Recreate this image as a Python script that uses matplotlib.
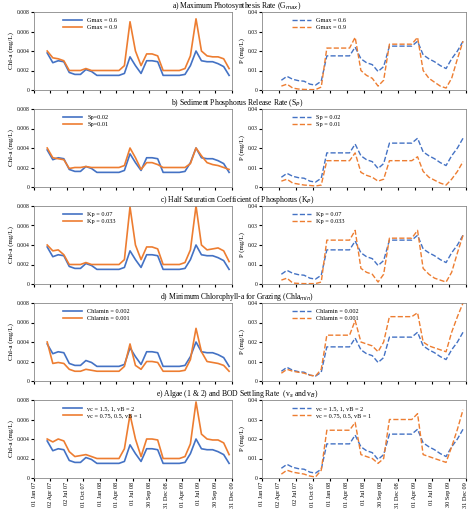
import numpy as np
import pandas as pd
import matplotlib
matplotlib.use("Agg")
import matplotlib.pyplot as plt

plt.rcParams['font.family'] = ['Liberation Serif', 'DejaVu Serif']

BLUE = "#4472C4"
ORANGE = "#ED7D31"

# monthly dates for Chl-a (Mar 07 .. Dec 09) and P (Apr 07 .. Dec 09)
chl_dates = pd.date_range("2007-03-01", "2009-12-01", freq="MS") + pd.Timedelta(days=14)
p_dates = pd.date_range("2007-04-01", "2009-12-01", freq="MS") + pd.Timedelta(days=14)

chl_base = [.0038, .0028, .0030, .0029, .0018, .0016, .0016, .0021, .0019, .0015, .0015, .0015,
            .0015, .0015, .0017, .0034, .0025, .0017, .0030, .0030, .0029, .0015, .0015, .0015,
            .0015, .0016, .0025, .0040, .0030, .0029, .0029, .0027, .0024, .0015]
chl_a = [.0040, .0033, .0032, .0030, .0020, .0020, .0020, .0022, .0020, .0020, .0020, .0020,
         .0020, .0020, .0025, .0070, .0040, .0025, .0037, .0037, .0035, .0020, .0020, .0020,
         .0020, .0022, .0035, .0073, .0040, .0035, .0034, .0034, .0032, .0022]
chl_b = [.0040, .0030, .0029, .0028, .0019, .0020, .0020, .0021, .0020, .0020, .0020, .0020,
         .0020, .0020, .0022, .0040, .0030, .0018, .0025, .0025, .0023, .0020, .0020, .0020,
         .0020, .0020, .0024, .0040, .0032, .0025, .0023, .0022, .0020, .0018]
chl_c = [.0040, .0034, .0035, .0030, .0020, .0020, .0020, .0022, .0020, .0020, .0020, .0020,
         .0020, .0020, .0025, .0079, .0040, .0025, .0038, .0038, .0036, .0020, .0020, .0020,
         .0020, .0022, .0035, .0080, .0040, .0035, .0036, .0037, .0034, .0023]
chl_d = [.0040, .0018, .0019, .0018, .0012, .0010, .0010, .0012, .0011, .0010, .0010, .0010,
         .0010, .0010, .0015, .0038, .0016, .0012, .0020, .0020, .0019, .0010, .0010, .0010,
         .0010, .0011, .0022, .0054, .0030, .0020, .0019, .0018, .0016, .0010]
chl_e = [.0040, .0037, .0040, .0038, .0027, .0022, .0023, .0024, .0022, .0020, .0020, .0020,
         .0020, .0020, .0030, .0065, .0040, .0022, .0040, .0040, .0039, .0020, .0020, .0020,
         .0020, .0022, .0035, .0078, .0045, .0040, .0039, .0039, .0036, .0024]

p_base = [.005, .007, .0055, .0048, .0045, .003, .0025, .0045, .0175, .0175, .0175, .0175,
          .0175, .022, .016, .014, .013, .0095, .012, .0225, .0225, .0225, .0225, .0225,
          .025, .018, .016, .0145, .0125, .011, .016, .020, .025]
p_a = [.002, .003, .001, .0005, .0003, .0002, .0002, .0015, .0215, .0215, .0215, .0215,
       .0215, .027, .010, .0075, .006, .002, .005, .0235, .0235, .0235, .0235, .0235,
       .027, .010, .006, .004, .002, .001, .006, .016, .025]
p_b = [.003, .004, .002, .0015, .001, .0008, .0005, .001, .0135, .0135, .0135, .0135,
       .0135, .0175, .0075, .006, .005, .003, .004, .0135, .0135, .0135, .0135, .0135,
       .0155, .008, .005, .0035, .002, .001, .004, .008, .013]
p_c = [.002, .003, .0005, .0003, .0002, .0002, .0002, .001, .0225, .0225, .0225, .0225,
       .0225, .0275, .008, .006, .005, .001, .005, .0235, .0235, .0235, .0235, .0235,
       .0275, .008, .005, .003, .002, .001, .006, .016, .025]
p_d = [.004, .006, .005, .0045, .004, .003, .0025, .006, .0235, .0235, .0235, .0235,
       .0235, .031, .020, .019, .018, .015, .020, .033, .033, .033, .033, .033,
       .035, .020, .018, .017, .016, .015, .025, .033, .040]
p_e = [.002, .004, .003, .0025, .002, .001, .0005, .004, .0245, .0245, .0245, .0245,
       .0245, .0285, .012, .011, .010, .0075, .010, .030, .030, .030, .030, .030,
       .033, .012, .011, .010, .009, .008, .016, .025, .035]

titles = ["a) Maximum Photosynthesis Rate (G$_{max}$)",
          "b) Sediment Phosphorus Release Rate (S$_P$)",
          "c) Half Saturation Coefficient of Phosphorus (K$_P$)",
          "d) Minimum Chlorophyll-a for Grazing (Chla$_{min}$)",
          "e) Algae (1 & 2) and BOD Settling Rate  (v$_s$ and v$_B$)"]
labels_left = [("Gmax = 0.6", "Gmax = 0.9"), ("Sp=0.02", "Sp=0.01"), ("Kp = 0.07", "Kp = 0.033"),
               ("Chlamin = 0.002", "Chlamin = 0.001"), ("vc = 1.5, 1, vB = 2", "vc = 0.75, 0.5, vB = 1")]
labels_right = [("Gmax = 0.6", "Gmax = 0.9"), ("Sp = 0.02", "Sp = 0.01"), ("Kp = 0.07", "Kp = 0.033"),
                ("Chlamin = 0.002", "Chlamin = 0.001"), ("vc = 1.5, 1, vB = 2", "vc = 0.75, 0.5, vB = 1")]
chl_alt = [chl_a, chl_b, chl_c, chl_d, chl_e]
p_alt = [p_a, p_b, p_c, p_d, p_e]

tick_dates = pd.to_datetime(["2007-01-01", "2007-04-02", "2007-07-02", "2007-10-01", "2008-01-01",
                             "2008-04-01", "2008-07-01", "2008-09-30", "2008-12-31", "2009-04-01",
                             "2009-07-01", "2009-09-30", "2009-12-31"])
tick_labels = [d.strftime("%d %b %y") for d in tick_dates]

W, H = 474, 514
fig = plt.figure(figsize=(W / 100, H / 100), dpi=100)
row_tops = [12, 109, 206, 303, 400]
ah = 78

for i in range(5):
    y0 = 1 - (row_tops[i] + ah) / H
    axl = fig.add_axes([34 / W, y0, 198 / W, ah / H])
    axr = fig.add_axes([262 / W, y0, 204 / W, ah / H])
    fig.text(0.5, 1 - (row_tops[i] - 6) / H, titles[i], ha="center", va="center", fontsize=5.5)

    axl.plot(chl_dates, chl_base, color=BLUE, lw=1.2, label=labels_left[i][0])
    axl.plot(chl_dates, chl_alt[i], color=ORANGE, lw=1.2, label=labels_left[i][1])
    axl.set_ylim(0, 0.008)
    axl.set_yticks([0, .002, .004, .006, .008])
    axl.set_yticklabels(["0", "0.002", "0.004", "0.006", "0.008"])
    axl.set_ylabel("Chl-a (mg/L)", fontsize=5, labelpad=2)

    axr.plot(p_dates, p_base, color=BLUE, lw=1.0, ls="--", label=labels_right[i][0])
    axr.plot(p_dates, p_alt[i], color=ORANGE, lw=1.0, ls="--", label=labels_right[i][1])
    axr.set_ylim(0, 0.04)
    axr.set_yticks([0, .01, .02, .03, .04])
    axr.set_yticklabels(["0", "0.01", "0.02", "0.03", "0.04"])
    axr.set_ylabel("P (mg/L)", fontsize=5, labelpad=2)

    for ax in (axl, axr):
        ax.set_xlim(pd.Timestamp("2007-01-01"), pd.Timestamp("2009-12-31"))
        ax.set_xticks(tick_dates)
        if i == 4:
            ax.set_xticklabels(tick_labels, rotation=90, fontsize=4.5)
        else:
            ax.set_xticklabels([])
        ax.tick_params(axis="y", labelsize=4, length=2, pad=1)
        ax.tick_params(axis="x", length=2, pad=1)
        for s in ax.spines.values():
            s.set_color("#888888")
            s.set_linewidth(0.6)
        ax.legend(loc="upper left", bbox_to_anchor=(0.12, 1.0), frameon=False, fontsize=4.5,
                  handlelength=3, labelspacing=0.3)

fig.savefig("out.png", dpi=100)
